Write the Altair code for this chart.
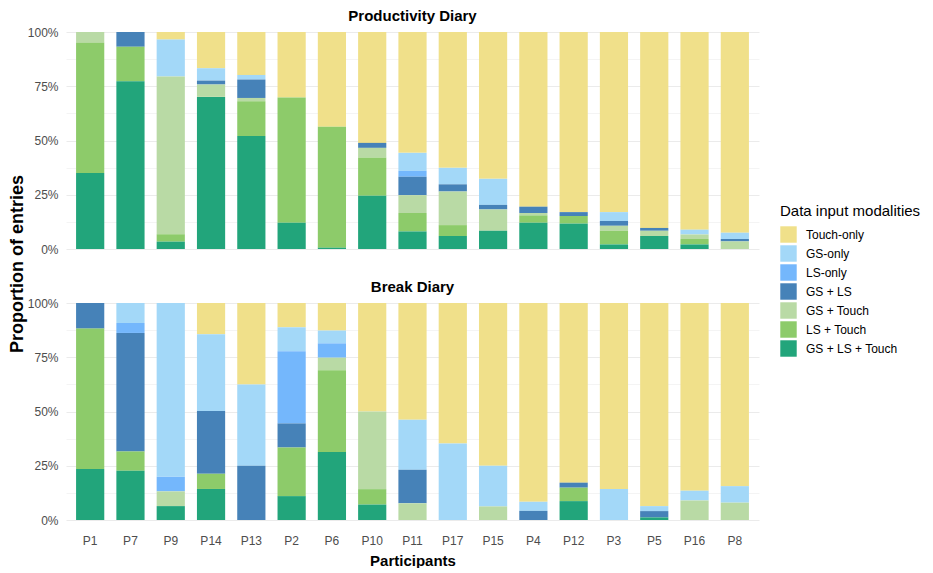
import altair as alt
import pandas as pd

participants = ["P1", "P7", "P9", "P14", "P13", "P2", "P6", "P10", "P11",
                "P17", "P15", "P4", "P12", "P3", "P5", "P16", "P8"]
categories = ["Touch-only", "GS-only", "LS-only", "GS + LS",
              "GS + Touch", "LS + Touch", "GS + LS + Touch"]
colors = ["#F0E08A", "#A3D8F8", "#74B7FC", "#4682B8",
          "#B9DAA5", "#8DCB6A", "#22A57B"]
diaries = ["Productivity Diary", "Break Diary"]

# Productivity diary proportions (per participant, in participant order)
prod_touch_only = [0, 0, 0.035, 0.167, 0.198, 0.302, 0.437, 0.511, 0.557, 0.626, 0.676, 0.805, 0.830, 0.830, 0.903, 0.911, 0.925]
prod_gs_only = [0, 0, 0.17, 0.057, 0.021, 0, 0, 0, 0.083, 0.076, 0.120, 0, 0, 0.041, 0, 0.022, 0.029]
prod_ls_only = [0, 0, 0, 0, 0, 0, 0, 0, 0.027, 0, 0, 0, 0, 0, 0, 0, 0]
prod_gs_ls = [0, 0.068, 0, 0.018, 0.085, 0, 0, 0.023, 0.085, 0.033, 0.021, 0.029, 0.018, 0.022, 0.013, 0, 0.011]
prod_gs_touch = [0.05, 0, 0.727, 0.057, 0.015, 0, 0, 0.044, 0.082, 0.155, 0.098, 0.011, 0, 0.023, 0.024, 0.021, 0.035]
prod_ls_touch = [0.60, 0.159, 0.034, 0, 0.16, 0.577, 0.557, 0.177, 0.085, 0.050, 0, 0.034, 0.035, 0.063, 0, 0.025, 0]
prod_gs_ls_touch = [0.35, 0.773, 0.034, 0.701, 0.521, 0.121, 0.006, 0.245, 0.081, 0.060, 0.084, 0.121, 0.117, 0.021, 0.060, 0.021, 0]

# Break diary proportions
break_touch_only = [0, 0, 0, 0.144, 0.376, 0.112, 0.127, 0.5, 0.538, 0.647, 0.75, 0.917, 0.828, 0.857, 0.936, 0.865, 0.844]
break_gs_only = [0, 0.092, 0.801, 0.354, 0.374, 0.110, 0.059, 0, 0.231, 0.353, 0.1875, 0.042, 0, 0.143, 0.023, 0.045, 0.076]
break_ls_only = [0, 0.046, 0.067, 0, 0, 0.333, 0.066, 0, 0, 0, 0, 0, 0, 0, 0, 0, 0]
break_gs_ls = [0.118, 0.546, 0, 0.289, 0.25, 0.111, 0, 0, 0.154, 0, 0, 0.042, 0.023, 0, 0.029, 0, 0]
break_gs_touch = [0, 0, 0.068, 0, 0, 0, 0.058, 0.357, 0.077, 0, 0.0625, 0, 0, 0, 0, 0.090, 0.080]
break_ls_touch = [0.647, 0.089, 0, 0.070, 0, 0.224, 0.377, 0.071, 0, 0, 0, 0, 0.062, 0, 0, 0, 0]
break_gs_ls_touch = [0.235, 0.227, 0.064, 0.143, 0, 0.110, 0.313, 0.071, 0, 0, 0, 0, 0.087, 0, 0.012, 0, 0]

tables = {
    "Productivity Diary": [prod_touch_only, prod_gs_only, prod_ls_only, prod_gs_ls,
                           prod_gs_touch, prod_ls_touch, prod_gs_ls_touch],
    "Break Diary": [break_touch_only, break_gs_only, break_ls_only, break_gs_ls,
                    break_gs_touch, break_ls_touch, break_gs_ls_touch],
}

rows = []
for diary in diaries:
    for ci, (cat, vals) in enumerate(zip(categories, tables[diary])):
        for p, v in zip(participants, vals):
            rows.append({"diary": diary, "category": cat, "participant": p,
                         "value": v, "stack_order": len(categories) - 1 - ci})
df = pd.DataFrame(rows)

yvals = [0, 0.125, 0.25, 0.375, 0.5, 0.625, 0.75, 0.875, 1.0]

base = alt.Chart(df).mark_bar().encode(
    x=alt.X("participant:N", sort=participants, title="Participants",
            scale=alt.Scale(paddingInner=0.3, paddingOuter=0.25),
            axis=alt.Axis(labelAngle=0, ticks=False, tickSize=0, domain=False, grid=False,
                          labelColor="#4D4D4D", labelFontSize=12, labelPadding=15,
                          titleFontSize=15, titleFontWeight="bold", titlePadding=7,
                          titleColor="#000000")),
    y=alt.Y("value:Q", stack="normalize", title=None,
            axis=alt.Axis(values=yvals, format=".0%",
                          labelExpr="(datum.value * 100) % 25 == 0 ? datum.label : ''",
                          ticks=False, tickSize=0, domain=False, labelColor="#4D4D4D",
                          labelFontSize=12, labelPadding=8, minExtent=10,
                          gridColor={"condition": {"test": "(datum.value * 100) % 25 == 0",
                                                   "value": "#EBEBEB"},
                                     "value": "#F4F4F4"})),
    color=alt.Color("category:N", scale=alt.Scale(domain=categories, range=colors),
                    legend=alt.Legend(title="Data input modalities", orient="none",
                                      legendX=714, legendY=172,
                                      symbolType="square", symbolSize=270,
                                      symbolStrokeWidth=0, symbolOpacity=1,
                                      labelFontSize=12, titleFontSize=15,
                                      titleFontWeight="normal", titleColor="#000000",
                                      labelColor="#000000", rowPadding=2,
                                      labelOffset=9, titlePadding=7)),
    order=alt.Order("stack_order:Q", sort="ascending"),
).properties(width=693, height=217)

chart = base.facet(
    row=alt.Row("diary:N", sort=diaries,
                header=alt.Header(title="Proportion of entries", titleFontSize=18,
                                  titleFontWeight="bold", titleColor="#000000",
                                  labelOrient="top", labelFontWeight="bold",
                                  labelFontSize=15, labelColor="#000000",
                                  labelPadding=8, titlePadding=-10)),
    spacing=30,
).properties(
    padding={"left": 0, "top": 0, "right": 0, "bottom": 0}
).configure(font="Liberation Sans").configure_view(stroke=None)

chart.save("out.html", embed_options={"renderer": "svg", "actions": False})
